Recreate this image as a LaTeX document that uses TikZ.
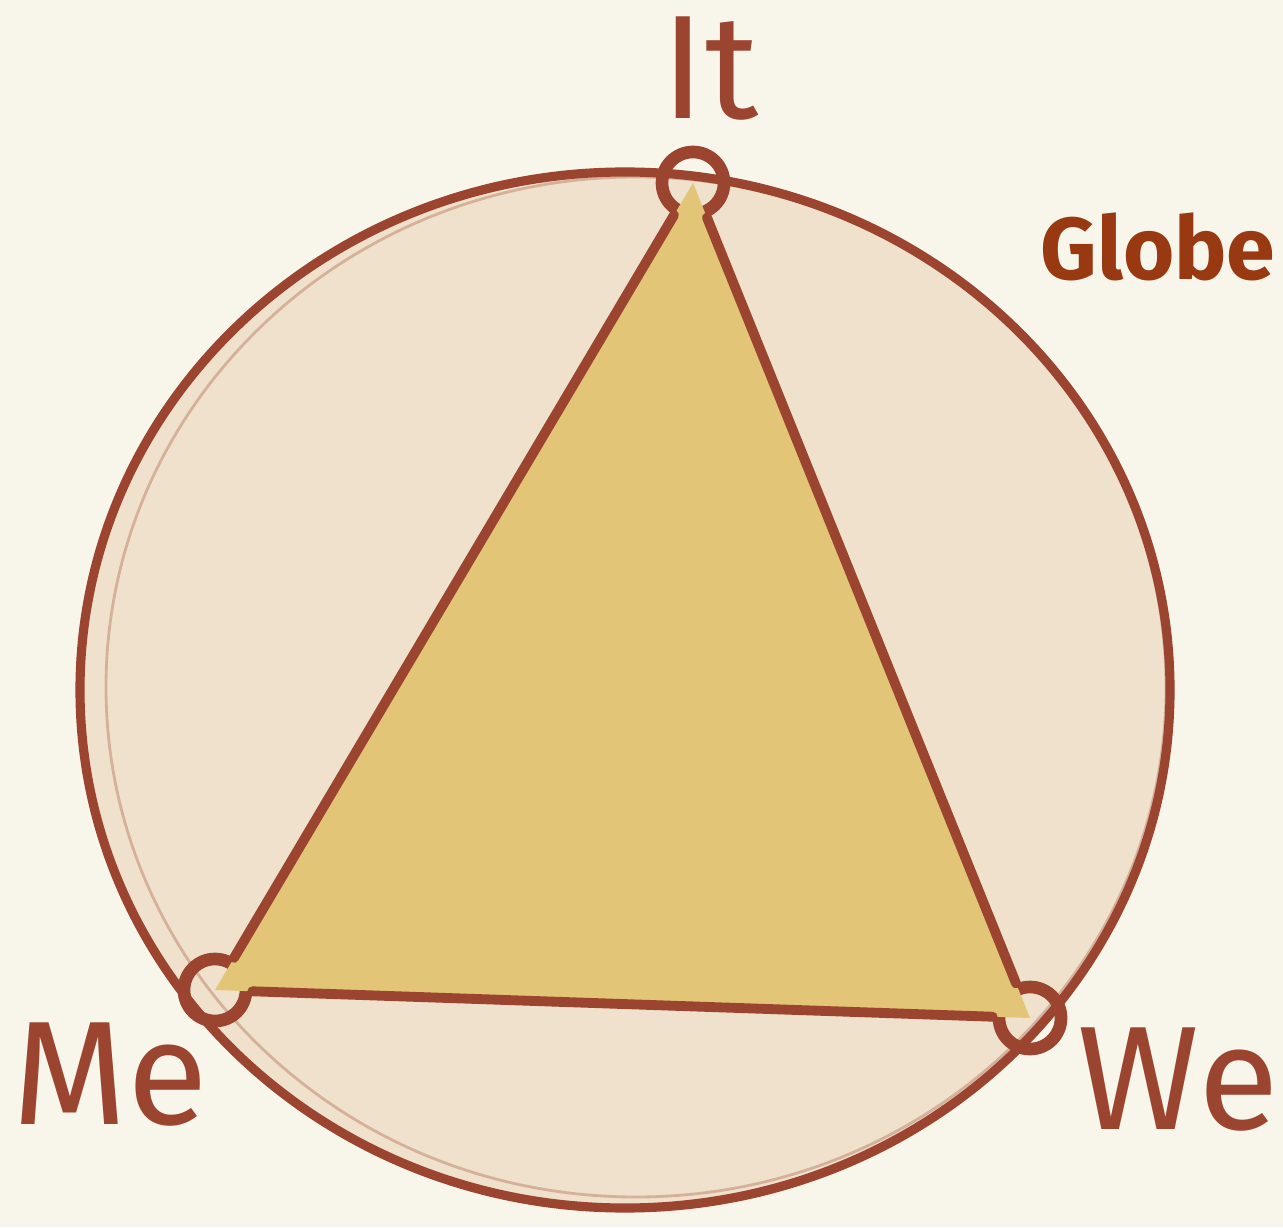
\documentclass[tikz,border=0pt]{standalone}
\usepackage{fontspec}
\setmainfont{Fira Sans}
\definecolor{paper}{HTML}{F8F5EA}
\definecolor{globefill}{HTML}{EFE1CB}
\definecolor{trifill}{HTML}{E2C577}
\definecolor{ink}{HTML}{9B4430}
\definecolor{globeink}{HTML}{983912}
\tikzset{
  vertex/.style={circle, draw=ink, line width=3.6pt, minimum size=0.62cm, inner sep=0pt},
  side/.style={ink, line width=2.8pt},
  word/.style={text=ink, font=\fontsize{42}{42}\selectfont},
}
\begin{document}
\begin{tikzpicture}[line cap=round, line join=round]

  \fill[paper] (0,0) rectangle (12.83,12.27);
  \useasboundingbox (0,0) rectangle (12.83,12.27);

  \coordinate (C) at (6.25,5.37);

  % the globe
  \fill[globefill] (C) ellipse[x radius=5.45, y radius=5.18];
  \draw[ink, line width=2.6pt] (C) ellipse[x radius=5.45, y radius=5.18];
  \draw[ink, line width=0.8pt, opacity=0.3] (6.36,5.40) ellipse[x radius=5.30, y radius=5.10];

  % the three corners
  \node[vertex] (it) at (6.93,10.44) {};
  \node[vertex] (me) at (2.15,2.37) {};
  \node[vertex] (we) at (10.30,2.09) {};

  \fill[trifill] (it.center) -- (me.center) -- (we.center) -- cycle;
  \draw[side] (it) -- (me);
  \draw[side] (me) -- (we);
  \draw[side] (we) -- (it);

  \node[word] (itlabel) at (7.10,11.58) {It};
  \node[word] (melabel) at (1.10,1.52) {Me};
  \node[word] (welabel) at (11.78,1.47) {We};
  \node[text=globeink, font=\bfseries\fontsize{25}{25}\selectfont] (globelabel) at (11.58,9.80) {Globe};

\end{tikzpicture}
\end{document}
